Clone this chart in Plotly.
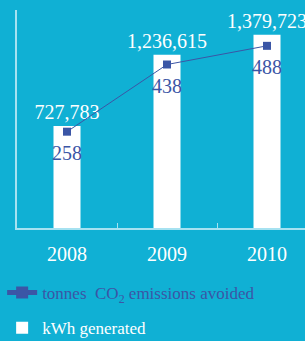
import plotly.graph_objects as go

years = ["2008", "2009", "2010"]
kwh_generated = [727783, 1236615, 1379723]
co2_avoided = [258, 438, 488]

SERIF = "Liberation Serif, Times New Roman, serif"
BLUE = "#3b56a6"
AXIS = "#a6e2f1"
BG = "#10b0d4"

fig = go.Figure()

fig.add_trace(go.Scatter(
    x=years, y=co2_avoided, yaxis="y2",
    mode="lines+markers",
    name="<span style='color:%s'>tonnes&nbsp; CO<sub>2</sub> emissions avoided</span>" % BLUE,
    line=dict(color=BLUE, width=1),
    marker=dict(symbol="square", size=8, color=BLUE),
    cliponaxis=False,
    legendgroup="a",
))

# value labels of the CO2 series (transparent larger marker gives the offset)
fig.add_trace(go.Scatter(
    x=years, y=co2_avoided, yaxis="y2",
    mode="markers+text",
    marker=dict(size=20, color="rgba(0,0,0,0)"),
    text=[str(v) for v in co2_avoided],
    textposition="bottom center",
    textfont=dict(family=SERIF, size=20, color=BLUE),
    cliponaxis=False,
    showlegend=False, hoverinfo="skip",
))

fig.add_trace(go.Bar(
    x=years, y=kwh_generated,
    name="kWh generated",
    marker=dict(color="white", line=dict(width=0)),
    width=0.27,
    text=[f"{v:,}" for v in kwh_generated],
    textposition="outside",
    constraintext="none",
    textfont=dict(family=SERIF, size=20, color="white"),
    cliponaxis=False,
    legendgroup="b",
))

fig.update_layout(
    width=305, height=341,
    margin=dict(l=17, r=0, t=10, b=113, autoexpand=False),
    paper_bgcolor=BG,
    plot_bgcolor="rgba(0,0,0,0)",
    font=dict(family=SERIF, color="white"),
    showlegend=True,
    legend=dict(
        xref="container", yref="container",
        x=0.007, y=1 - 275 / 341, xanchor="left", yanchor="top",
        traceorder="grouped", tracegroupgap=10,
        itemsizing="constant",
        font=dict(family=SERIF, size=17, color="white"),
        bgcolor="rgba(0,0,0,0)",
    ),
    xaxis=dict(
        type="category", range=[-0.5, 2.38],
        showline=True, linecolor=AXIS, linewidth=2,
        ticks="inside", tickson="boundaries", ticklen=5, tickcolor=AXIS, tickwidth=1,
        tickfont=dict(family=SERIF, size=20, color="white"),
        tickangle=0,
        ticklabelstandoff=7,
        showgrid=False, zeroline=False, fixedrange=True,
    ),
    yaxis=dict(
        range=[0, 1556500],
        showline=True, linecolor=AXIS, linewidth=2,
        tickvals=[1556500], ticks="inside", ticklen=7, tickcolor=AXIS, tickwidth=2,
        showticklabels=False, showgrid=False, zeroline=False, fixedrange=True,
    ),
    yaxis2=dict(
        range=[0, 584], overlaying="y", visible=False, fixedrange=True,
    ),
)

fig.write_html(
    "out.html",
    config={"displayModeBar": False},
    post_script="document.body.style.margin='0';document.body.style.background='%s';" % BG,
)
